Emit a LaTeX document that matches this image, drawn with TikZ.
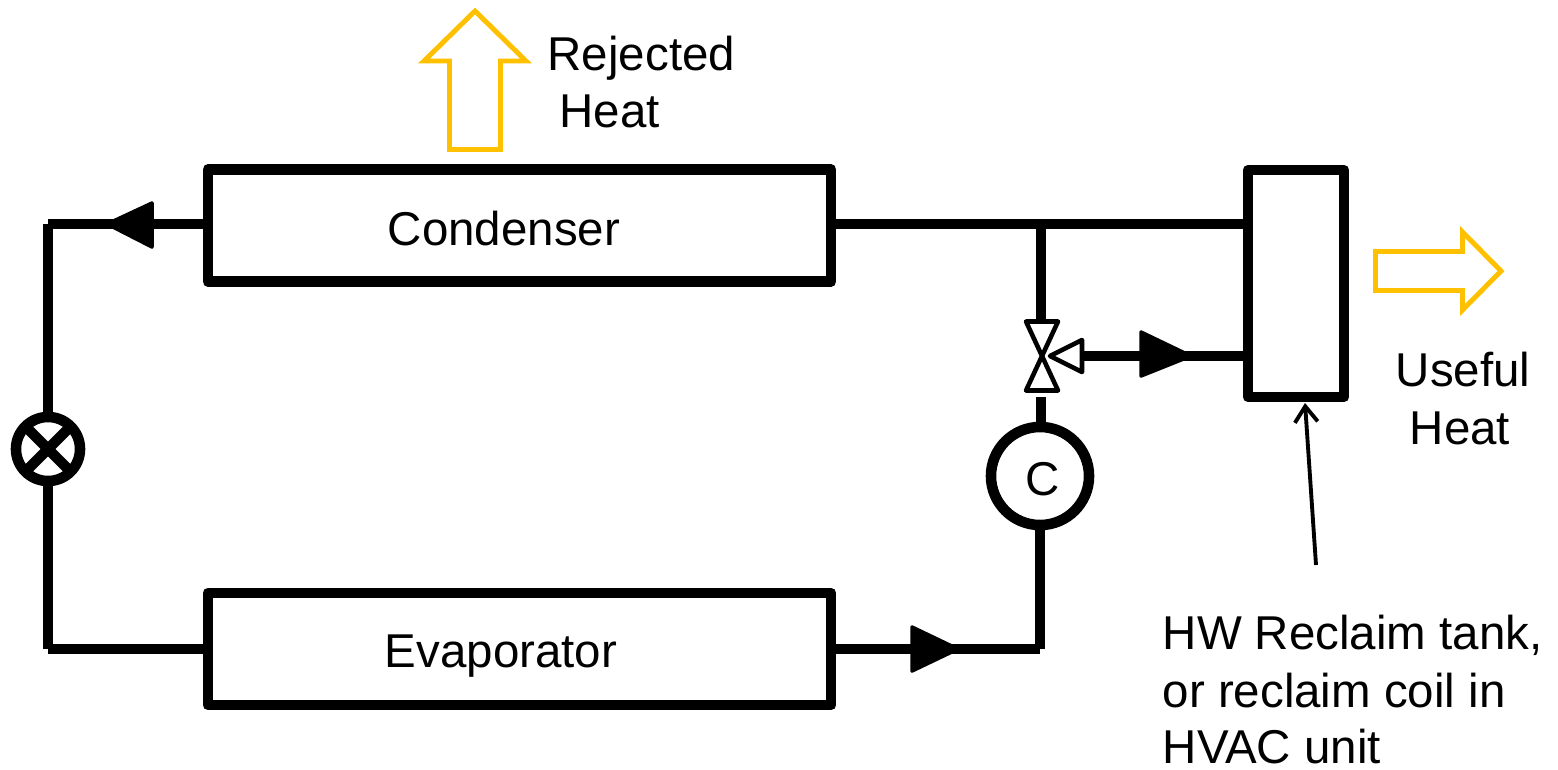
\documentclass[tikz,border=0pt]{standalone}
\usepackage{fontspec}
\setmainfont{Liberation Sans}
\usetikzlibrary{arrows.meta}
\definecolor{heatcolor}{HTML}{FFC000}
\tikzset{
	unitbox/.style={draw,line width=3pt,rectangle,outer sep=0pt,line join=round,inner sep=0pt},
	pipe/.style={line width=3pt},
	flowmark/.style={fill=black,draw=black,line width=1pt,line join=round},
	valvemark/.style={draw=black,line width=1.3pt,line join=round,fill=white},
	heatarrow/.style={draw=heatcolor,line width=1.4pt,line join=miter,miter limit=10},
	label/.style={font=\fontsize{13.5}{16.5}\selectfont,anchor=base west,inner sep=0pt},
}
\begin{document}
\begin{tikzpicture}[x=.01cm,y=-.01cm]
	\useasboundingbox (0,0) rectangle (1558,769);
	% units
		\node[unitbox,minimum width=6.23cm,minimum height=1.12cm] (condenser) at (519.5,225.5) {};
		\node[unitbox,minimum width=6.23cm,minimum height=1.12cm] (evaporator) at (519.5,649) {};
		\node[unitbox,minimum width=.96cm,minimum height=2.27cm] (tank) at (1296,283.5) {};
		\node[unitbox,circle,minimum size=.98cm] (compressor) at (1040,476) {};
		\node[unitbox,circle,minimum size=.64cm] (expansion) at (48,449) {};
		\node[label,anchor=base] (condenserlabel) at (504,245) {Condenser};
		\node[label,anchor=base] (evaporatorlabel) at (501,667) {Evaporator};
		\node[label,anchor=base] (compressorlabel) at (1043,495) {C};
	% corners and tees
		\coordinate (topleft) at (48,224);
		\coordinate (bottomleft) at (48,649);
		\coordinate (bottomright) at (1040,649);
		\coordinate (tee) at (1041,224);
		\coordinate (valvein) at (1041,321);
		\coordinate (valveout) at (1041,397);
		\coordinate (valveside) at (1082,356);
	% refrigerant lines
		\draw[pipe] (condenser.east |- topleft) -- (tank.west |- topleft);
		\draw[pipe] (condenser.west |- topleft) -- (topleft);
		\draw[pipe] (topleft) -- (expansion.north);
		\draw[pipe] (expansion.south) -- (bottomleft);
		\draw[pipe] (bottomleft) -- (evaporator.west |- bottomleft);
		\draw[pipe] (evaporator.east |- bottomright) -- (bottomright);
		\draw[pipe] (bottomright) -- (compressor.south);
		\draw[pipe] (tee) -- (valvein);
		\draw[pipe] (compressor.north -| valveout) -- (valveout);
		\draw[pipe] (tank.west |- valveside) -- (valveside);
	% expansion valve cross
		\draw[pipe] (expansion.45) -- (expansion.225);
		\draw[pipe] (expansion.135) -- (expansion.315);
	% flow direction marks
		\draw[flowmark] (152,203) -- (107,224) -- (152,247) -- cycle;
		\draw[flowmark] (912,627) -- (958,649) -- (912,671) -- cycle;
		\draw[flowmark] (1141,332) -- (1191,356) -- (1141,376) -- cycle;
	% three way valve
		\draw[valvemark] (1026,321.5) -- (1058,321.5) -- (1042,356) -- cycle;
		\draw[valvemark] (1026,390.5) -- (1058,390.5) -- (1042,356) -- cycle;
		\draw[valvemark] (1050,356) -- (1082,340) -- (1082,372) -- cycle;
	% heat arrows
		\draw[heatarrow] (449.5,149.5) -- (449.5,61) -- (424,61) -- (475,11) -- (526,61) -- (500.5,61) -- (500.5,149.5) -- cycle;
		\draw[heatarrow] (1375.5,251.5) -- (1462.5,251.5) -- (1462.5,232) -- (1501,271) -- (1462.5,310) -- (1462.5,290.5) -- (1375.5,290.5) -- cycle;
	% texts
		\node[label] (rejected) at (547,70) {Rejected};
		\node[label] (rejectedheat) at (559,127) {Heat};
		\node[label,anchor=base] (useful) at (1463,386) {Useful};
		\node[label,anchor=base] (usefulheat) at (1460,444) {Heat};
		\node[label] (reclaima) at (1162,649) {HW Reclaim tank,};
		\node[label] (reclaimb) at (1162,707) {or reclaim coil in};
		\node[label] (reclaimc) at (1162,763) {HVAC unit};
	% pointer to tank
		\coordinate (pointer) at (1316,565);
		\draw[-{Straight Barb[length=4.5pt,width=6.5pt]},line width=1.1pt] (pointer) -- (1305,403);
\end{tikzpicture}
\end{document}
